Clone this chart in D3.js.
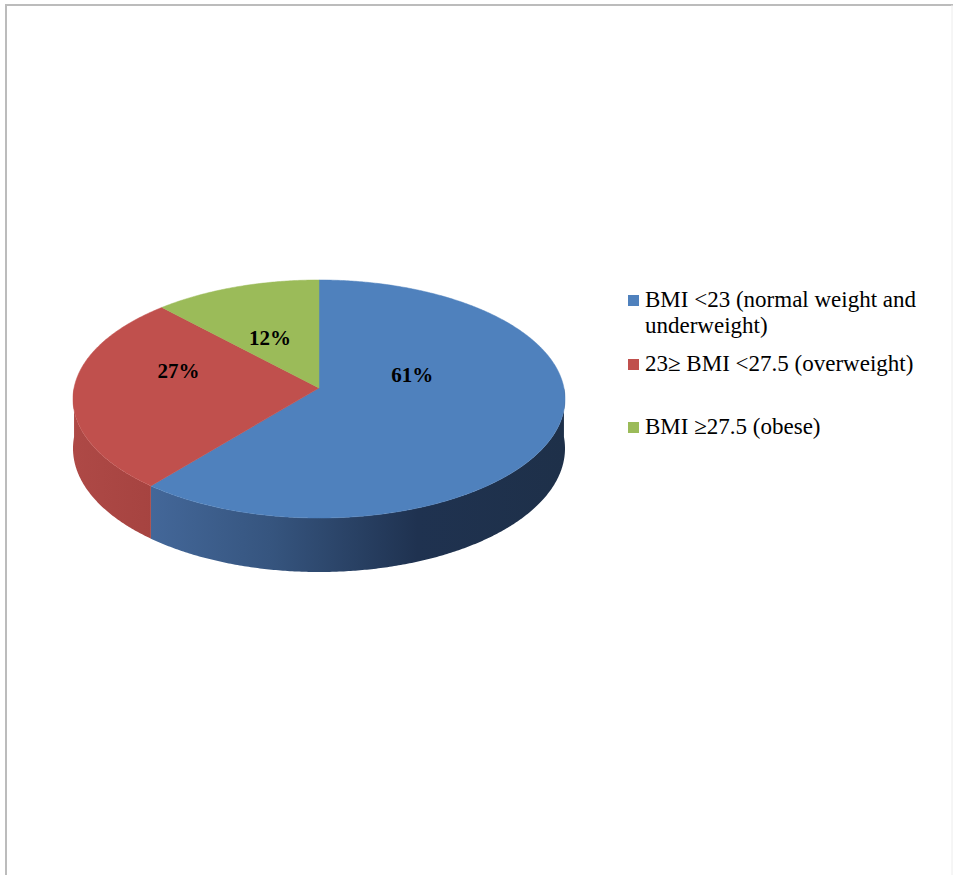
<!DOCTYPE html>
<html>
<head>
<meta charset="utf-8">
<script src="https://cdn.jsdelivr.net/npm/d3@7"></script>
<style>
  html, body { margin: 0; padding: 0; background: #fff; }
  svg { display: block; }
  .serif { font-family: "Liberation Serif", "Times New Roman", Tinos, "DejaVu Serif", serif; }
</style>
</head>
<body>
<svg id="chart" width="953" height="875"></svg>
<script>
// ---- data ----
const categories = [
  "BMI <23 (normal weight and underweight)",
  "23\u2265 BMI <27.5 (overweight)",
  "BMI \u226527.5 (obese)"
];
const legendLines = [
  ["BMI <23 (normal weight and", "underweight)"],
  ["23\u2265 BMI <27.5 (overweight)"],
  ["BMI \u226527.5 (obese)"]
];
const values = [61, 27, 12];
const labels = ["61%", "27%", "12%"];
const topColors = ["#4F81BD", "#C0504D", "#9BBB59"];

// ---- layout / styling ----
const sideStops = [
  [["0%", "#4c73aa"], ["40%", "#36557f"], ["70%", "#1f3250"], ["100%", "#1e3049"]],
  [["0%", "#ae4946"], ["20%", "#a4423f"], ["60%", "#963a37"], ["100%", "#963a37"]],
  [["0%", "#8aa74e"], ["100%", "#6d853a"]]
];
// label anchor in the pie's own (unit circle) frame: angle offset from slice middle (deg), radius fraction
const labelAnchor = [[-36, 0.40], [16, 0.60], [-3.5, 0.49]];

const svg = d3.select("#chart");
// perspective projection of the pie disc
const cx = 319, cy = 388, A = 244.95, B = 118, E = 0.0924, DEPTH = 49;
function project(a, r, down) {
  const u = r * Math.sin(a), v = -r * Math.cos(a);
  const w = 1 - E * v;
  return [cx + A * u / w, cy + (B * v + (down || 0)) / w];
}

// page border
svg.append("line").attr("x1", 6).attr("y1", 5).attr("x2", 953).attr("y2", 5)
  .attr("stroke", "#bcbcbc").attr("stroke-width", 2);
svg.append("line").attr("x1", 6).attr("y1", 4).attr("x2", 6).attr("y2", 875)
  .attr("stroke", "#bcbcbc").attr("stroke-width", 2);
svg.append("line").attr("x1", 952).attr("y1", 5).attr("x2", 952).attr("y2", 875)
  .attr("stroke", "#ececec").attr("stroke-width", 1);

const pie = d3.pie().sort(null).value(d => d);
const arcsData = pie(values);
const line = d3.line();

function sampleAngles(a0, a1) {
  const n = Math.max(2, Math.ceil((a1 - a0) / (Math.PI / 360)));
  return d3.range(n + 1).map(k => a0 + (a1 - a0) * k / n);
}

const defs = svg.append("defs");
arcsData.forEach((d, i) => {
  const g = defs.append("linearGradient").attr("id", "side" + i)
    .attr("gradientUnits", "userSpaceOnUse")
    .attr("x1", cx - A * 1.005).attr("y1", 0).attr("x2", cx + A * 1.005).attr("y2", 0);
  sideStops[i].forEach(s => g.append("stop").attr("offset", s[0]).attr("stop-color", s[1]));
});

// side walls (front half)
const sideG = svg.append("g");
arcsData.forEach((d, i) => {
  const a0 = Math.max(d.startAngle, Math.PI / 2);
  const a1 = Math.min(d.endAngle, 3 * Math.PI / 2);
  if (a1 <= a0) return;
  const angs = sampleAngles(a0, a1);
  const pts = angs.map(a => project(a, 1, 0))
    .concat(angs.slice().reverse().map(a => project(a, 1, DEPTH)));
  sideG.append("path").attr("d", line(pts) + "Z").attr("fill", `url(#side${i})`);
});

// top face
const topG = svg.append("g");
topG.selectAll("path").data(arcsData).join("path")
  .attr("d", d => {
    const pts = [project(0, 0)].concat(sampleAngles(d.startAngle, d.endAngle).map(a => project(a, 1)));
    return line(pts) + "Z";
  })
  .attr("fill", (d, i) => topColors[i])
  .attr("stroke", (d, i) => topColors[i])
  .attr("stroke-width", 0.5);

// slice labels
svg.selectAll("text.lbl").data(arcsData).join("text")
  .attr("class", "lbl serif")
  .attr("transform", (d, i) => {
    const mid = (d.startAngle + d.endAngle) / 2 + labelAnchor[i][0] * Math.PI / 180;
    const p = project(mid, labelAnchor[i][1]);
    return `translate(${p[0]},${p[1]})`;
  })
  .attr("dy", "0.34em")
  .attr("text-anchor", "middle")
  .style("font-weight", "bold")
  .style("font-size", "21px")
  .attr("fill", "#000")
  .text((d, i) => labels[i]);

// legend
const legendY = [307, 371, 434];
const leg = svg.append("g");
legendLines.forEach((lines, i) => {
  leg.append("rect").attr("x", 628).attr("y", legendY[i] - 12)
    .attr("width", 11).attr("height", 11).attr("fill", topColors[i]);
  const t = leg.append("text").attr("class", "serif")
    .style("font-size", "23px").attr("fill", "#000");
  lines.forEach((ln, j) => {
    t.append("tspan").attr("x", 645).attr("y", legendY[i] + j * 26).text(ln);
  });
});
</script>
</body>
</html>
